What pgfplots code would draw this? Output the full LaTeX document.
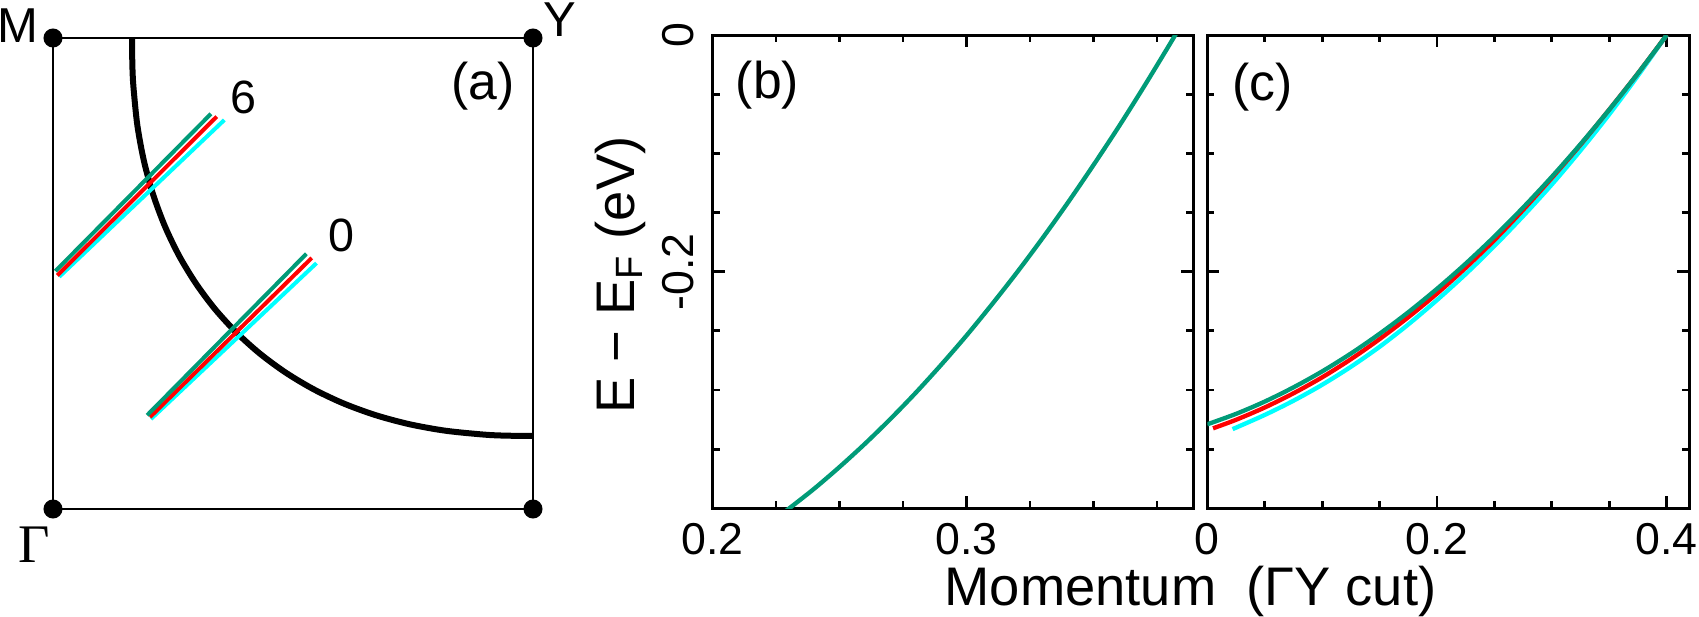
\documentclass[border=0pt]{standalone}
\usepackage{pgfplots}
\pgfplotsset{compat=1.18}
\usepackage{fontspec}
\setmainfont{Liberation Sans}
\newfontfamily\seriffont{Liberation Serif}
\definecolor{bgreen}{RGB}{0,155,120}
\definecolor{bred}{RGB}{255,0,0}
\definecolor{bcyan}{RGB}{0,255,255}
\newcommand{\tickfont}{\fontsize{13.4}{15}\selectfont}
\newcommand{\labfont}{\fontsize{16.3}{19}\selectfont}
\newcommand{\panfont}{\fontsize{15.5}{18}\selectfont}
\pgfplotsset{
  bcstyle/.style={
    anchor=south west,
    scale only axis,
    height=141.99pt,
    axis line style={line width=0.9pt},
    every tick/.style={black, line width=0.85pt},
    major tick length=3.6pt, minor tick length=2.1pt,
    tick align=inside,
    ymin=-0.4, ymax=0,
    ytick={-0.4,-0.2,0},
    minor ytick={-0.35,-0.3,-0.25,-0.15,-0.1,-0.05},
    xticklabel style={font=\tickfont, anchor=north, inner sep=0pt},
    xticklabel shift=4.4pt,
    yticklabel style={font=\tickfont, rotate=90, anchor=south, inner sep=0pt},
    yticklabel shift=5.25pt,
  }
}
\begin{document}
\begin{tikzpicture}
\useasboundingbox (0,0) rectangle (509.7pt,185.1pt);
% ---------------- (a)
\begin{axis}[at={(15.9pt,32.4pt)}, anchor=south west, scale only axis,
  width=144pt, height=141.3pt,
  xmin=0, xmax=1, ymin=0, ymax=1, xtick=\empty, ytick=\empty,
  axis line style={line width=0.7pt}, clip=false]
\addplot[black, line width=1.8pt, smooth] coordinates {
(0.1646,1.0) (0.1653,0.9445) (0.1674,0.8988) (0.1756,0.8156) (0.1894,0.7391)
(0.2086,0.6676) (0.2331,0.6004) (0.2628,0.5375) (0.2977,0.4789) (0.3374,0.4246)
(0.3820,0.3749) (0.4312,0.3298) (0.4848,0.2896) (0.5428,0.2543) (0.6049,0.2243)
(0.6714,0.1995) (0.7421,0.1801) (0.8177,0.1662) (0.8999,0.1578) (0.9452,0.1557) (1.0,0.155)};
% cut 6
\addplot[bcyan, line width=1.2pt] coordinates {(0.013,0.493) (0.357,0.826)};
\addplot[bred, line width=1.2pt] coordinates {(0.009,0.496) (0.341,0.833)};
\addplot[bgreen, line width=1.2pt] coordinates {(0.005,0.505) (0.329,0.839)};
% cut 0
\addplot[bcyan, line width=1.2pt] coordinates {(0.204,0.191) (0.549,0.522)};
\addplot[bred, line width=1.2pt] coordinates {(0.202,0.195) (0.539,0.533)};
\addplot[bgreen, line width=1.2pt] coordinates {(0.196,0.199) (0.528,0.542)};
\addplot[only marks, mark=*, mark size=2.65pt, black] coordinates {(0,0) (1,0) (0,1) (1,1)};
\node[font=\fontsize{14.7}{17}\selectfont, inner sep=0pt] at (axis cs:-0.074,1.0265) {M};
\node[font=\fontsize{14.7}{17}\selectfont, inner sep=0pt] at (axis cs:1.0552,1.038) {Y};
\node[font=\seriffont\fontsize{16.3}{19}\selectfont, inner sep=0pt] at (axis cs:-0.0396,-0.0764) {Γ};
\node[font=\panfont, inner sep=0pt] at (axis cs:0.896,0.898) {(a)};
\node[font=\fontsize{14}{17}\selectfont, inner sep=0pt] at (axis cs:0.396,0.873) {6};
\node[font=\fontsize{14}{17}\selectfont, inner sep=0pt] at (axis cs:0.600,0.580) {0};
\end{axis}
% ---------------- (b)
\begin{axis}[bcstyle, at={(213.75pt,32.61pt)}, width=144.24pt,
  xmin=0.2, xmax=0.3893,
  xtick={0.2,0.3}, xticklabels={0.2,0.3},
  minor xtick={0.225,0.25,0.275,0.325,0.35,0.375},
  yticklabels={,-0.2,0},
  ylabel={E − E\textsubscript{F} (eV)},
  ylabel style={at={(rel axis cs:-0.1924,0.493)}, anchor=center, font=\labfont, inner sep=0pt},
  xlabel={Momentum\ \ (ΓY cut)},
  xlabel style={at={(rel axis cs:0.9942,-0.2064)}, anchor=base, font=\labfont, inner sep=0pt},
  ]
\addplot[bgreen, line width=1.3pt, smooth] coordinates {
(0.225,-0.4085) (0.23,-0.4004) (0.24,-0.3835) (0.25,-0.3651) (0.26,-0.3455)
(0.27,-0.3246) (0.28,-0.3024) (0.29,-0.2788) (0.30,-0.2540) (0.31,-0.2277)
(0.32,-0.2003) (0.33,-0.1715) (0.34,-0.1414) (0.35,-0.1099) (0.36,-0.0773)
(0.37,-0.0432) (0.38,-0.0079) (0.385,0.0103)};
\node[font=\panfont, inner sep=0pt] at (rel axis cs:0.1144,0.8933) {(b)};
\end{axis}
% ---------------- (c)
\begin{axis}[bcstyle, at={(362.19pt,32.61pt)}, width=144.51pt,
  xmin=0, xmax=0.4194,
  xtick={0,0.2,0.4}, xticklabels={0,0.2,0.4},
  minor xtick={0.05,0.1,0.15,0.25,0.3,0.35},
  yticklabels={,,},
  ]
\addplot[bcyan, line width=1.3pt, smooth] coordinates {
(0.022,-0.3331) (0.05,-0.3211) (0.075,-0.3091) (0.1,-0.2956) (0.125,-0.2804)
(0.15,-0.2635) (0.175,-0.2446) (0.2,-0.2240) (0.225,-0.2020) (0.25,-0.1783)
(0.275,-0.1530) (0.3,-0.1263) (0.325,-0.0975) (0.35,-0.0670) (0.375,-0.0343) (0.4,0.0)};
\addplot[bred, line width=1.3pt, smooth] coordinates {
(0.005,-0.3324) (0.025,-0.3252) (0.05,-0.3148) (0.075,-0.3028) (0.1,-0.2893)
(0.125,-0.2740) (0.15,-0.2570) (0.175,-0.2385) (0.2,-0.2185) (0.225,-0.1967)
(0.25,-0.1733) (0.275,-0.1478) (0.3,-0.1208) (0.325,-0.0927) (0.35,-0.0630)
(0.375,-0.0323) (0.4,0.0)};
\addplot[bgreen, line width=1.3pt, smooth] coordinates {
(0,-0.329) (0.025,-0.3202) (0.05,-0.3098) (0.075,-0.2978) (0.1,-0.2843)
(0.125,-0.2692) (0.15,-0.2525) (0.175,-0.2343) (0.2,-0.2145) (0.225,-0.1932)
(0.25,-0.1703) (0.275,-0.1458) (0.3,-0.1198) (0.325,-0.0922) (0.35,-0.0630)
(0.375,-0.0323) (0.4,0.0)};
\node[font=\panfont, inner sep=0pt] at (rel axis cs:0.1146,0.889) {(c)};
\end{axis}
\end{tikzpicture}
\end{document}
